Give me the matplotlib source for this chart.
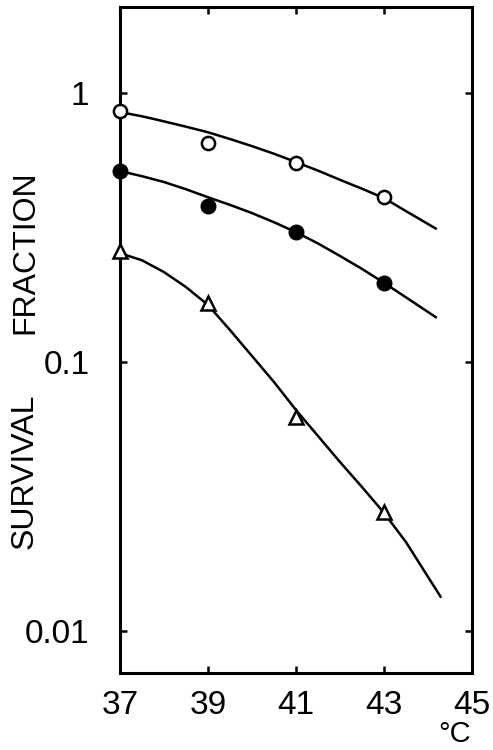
import matplotlib
matplotlib.use("Agg")
import matplotlib.pyplot as plt
from matplotlib.ticker import FixedLocator, NullLocator

# measured points
temps = [37, 39, 41, 43]
open_vals = [0.855, 0.655, 0.549, 0.410]
filled_vals = [0.513, 0.380, 0.304, 0.197]
tri_vals = [0.259, 0.166, 0.0625, 0.0277]

# hand-drawn fit curves
curve_t = [37, 37.5, 38, 38.5, 39, 39.5, 40, 40.5, 41, 41.5, 42, 42.5, 43, 43.5, 44.2]
open_curve = [0.85, 0.82, 0.785, 0.75, 0.715, 0.675, 0.635, 0.595, 0.554, 0.515,
              0.476, 0.441, 0.407, 0.364, 0.312]
filled_curve = [0.513, 0.491, 0.467, 0.439, 0.410, 0.384, 0.358, 0.331, 0.304, 0.276,
                0.248, 0.222, 0.197, 0.174, 0.146]
tri_t = [37, 37.5, 38, 38.5, 39, 39.5, 40, 40.5, 41, 41.5, 42, 42.5, 43, 43.5, 44.3]
tri_curve = [0.254, 0.239, 0.216, 0.190, 0.163, 0.1315, 0.1053, 0.0843, 0.0663, 0.0531,
             0.0425, 0.0343, 0.0275, 0.0214, 0.0133]

xticks = [37, 39, 41, 43, 45]
yticks = [1, 0.1, 0.01]
yticklabels = ["1", "0.1", "0.01"]

font = ["Liberation Sans", "DejaVu Sans"]

fig = plt.figure(figsize=(4.93, 7.5), dpi=100)
ax = fig.add_axes([120 / 493, 1 - 673 / 750, 352 / 493, 666 / 750])

lw = 1.8
ax.plot(curve_t, open_curve, color="black", lw=lw, solid_capstyle="butt")
ax.plot(curve_t, filled_curve, color="black", lw=lw, solid_capstyle="butt")
ax.plot(tri_t, tri_curve, color="black", lw=lw, solid_capstyle="butt")

ax.plot(temps, open_vals, "o", ms=9.5, mfc="white", mec="black", mew=1.8,
        ls="none", clip_on=False, zorder=5)
ax.plot(temps, filled_vals, "o", ms=10.5, mfc="black", mec="black",
        ls="none", clip_on=False, zorder=5)
ax.plot(temps, tri_vals, "^", ms=10.5, mfc="white", mec="black", mew=1.8,
        ls="none", clip_on=False, zorder=5)

ax.set_yscale("log")
ax.set_xlim(37, 45)
ax.set_ylim(0.00698, 2.09)

ax.xaxis.set_major_locator(FixedLocator(xticks))
ax.yaxis.set_major_locator(FixedLocator(yticks))
ax.yaxis.set_minor_locator(NullLocator())
ax.set_xticklabels([str(t) for t in xticks])
ax.set_yticklabels(yticklabels)

ax.tick_params(axis="both", which="major", direction="in", length=5, width=1.8,
               top=True, right=True, labelsize=24)
ax.tick_params(axis="x", pad=12)
ax.tick_params(axis="y", pad=22)
for lab in ax.get_xticklabels() + ax.get_yticklabels():
    lab.set_family(font)

for sp in ax.spines.values():
    sp.set_linewidth(2.2)

# y label as two words, placed where they sit in the original
fig.text(25 / 493, 1 - 252 / 750, "FRACTION", rotation=90,
         ha="center", va="center", fontsize=23, family=font)
fig.text(25 / 493, 1 - 471 / 750, "SURVIVAL", rotation=90,
         ha="center", va="center", fontsize=23, family=font)
fig.text(455 / 493, 1 - 742 / 750, "°C", ha="center", va="baseline",
         fontsize=21, family=font)

fig.savefig("out.png", dpi=100)
